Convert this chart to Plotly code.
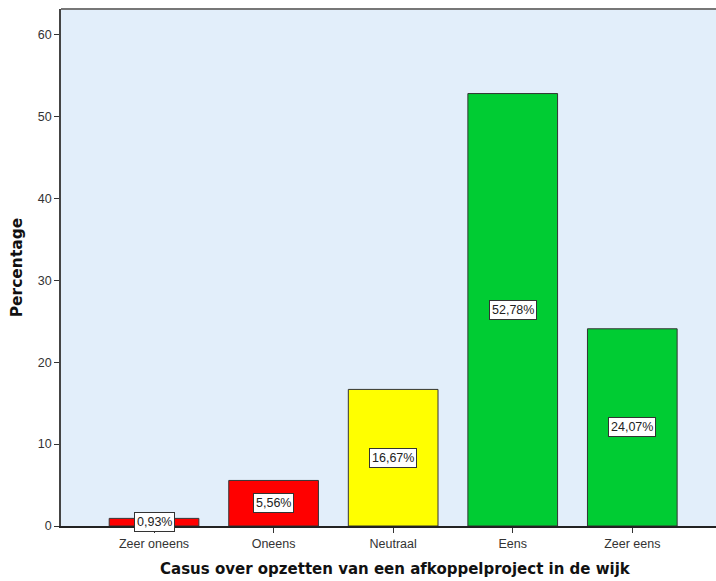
import plotly.graph_objects as go

categories = ["Zeer oneens", "Oneens", "Neutraal", "Eens", "Zeer eens"]
values = [0.93, 5.56, 16.67, 52.78, 24.07]
labels = ["0,93%", "5,56%", "16,67%", "52,78%", "24,07%"]
colors = ["#FF0000", "#FF0000", "#FFFF00", "#00CC33", "#00CC33"]
y_ticks = [0, 10, 20, 30, 40, 50, 60]
x_title = "Casus over opzetten van een afkoppelproject in de wijk"
y_title = "Percentage"

fig = go.Figure()
fig.add_trace(go.Bar(
    x=categories, y=values,
    marker=dict(color=colors, line=dict(color="#333333", width=1)),
    width=0.75, hoverinfo="skip",
))

for c, v, t in zip(categories, values, labels):
    fig.add_annotation(
        x=c, y=v / 2, text=t, showarrow=False,
        font=dict(family="Liberation Sans, Arial", size=12.5, color="#222222"),
        bgcolor="white", bordercolor="#333333", borderwidth=1, borderpad=2,
    )

# x-axis title (slightly right of plot centre, as in the reference)
fig.add_annotation(
    xref="paper", yref="paper", x=0.51, y=0, yshift=-43, yanchor="middle",
    text="<b>" + x_title + "</b>", showarrow=False,
    font=dict(family="DejaVu Sans", size=15, color="#111111"),
)

fig.update_layout(
    width=716, height=581,
    margin=dict(l=61, r=0, t=9, b=55, autoexpand=False),
    paper_bgcolor="white",
    plot_bgcolor="#E2EEFA",
    showlegend=False,
    bargap=0.25,
    xaxis=dict(
        range=[-0.778, 4.70],
        showline=True, linecolor="#222222", linewidth=1.5,
        ticks="outside", ticklen=5, tickcolor="#333333",
        tickfont=dict(family="Liberation Sans, Arial", size=12.5, color="#333333"),
        showgrid=False, zeroline=False, fixedrange=True, automargin=False,
    ),
    yaxis=dict(
        range=[0, 63.1],
        tickvals=y_ticks,
        showline=True, linecolor="#444444", linewidth=1.5,
        ticks="outside", ticklen=5, tickcolor="#333333",
        tickfont=dict(family="Liberation Sans, Arial", size=12.5, color="#333333"),
        title=dict(text="<b>" + y_title + "</b>",
                   font=dict(family="DejaVu Sans", size=15.5, color="#111111"),
                   standoff=11),
        showgrid=False, zeroline=False, fixedrange=True, automargin=False,
    ),
)

fig.add_shape(type="line", xref="paper", yref="paper", x0=0, x1=1, y0=1, y1=1,
              line=dict(color="#777777", width=2))

fig.write_html("out.html", config={"displayModeBar": False},
               post_script="document.body.style.margin='0';")
